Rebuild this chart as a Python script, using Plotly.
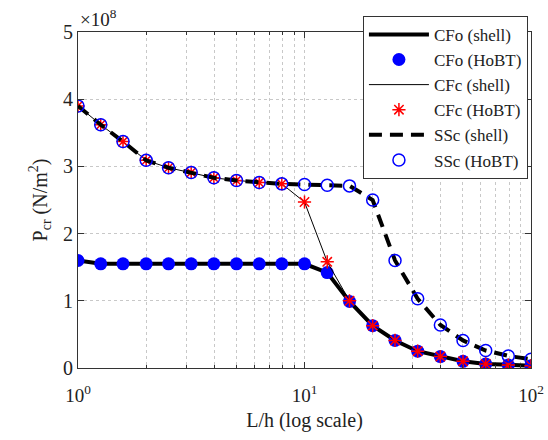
import plotly.graph_objects as go

# Slenderness ratio L/h (log-spaced)
l_over_h = [1, 1.26, 1.58, 2, 2.51, 3.16, 3.98, 5.01, 6.31, 7.94, 10,
            12.6, 15.8, 20, 25.1, 31.6, 39.8, 50.1, 63.1, 79.4, 100]

# Critical buckling load, in units of 1e8 N/m^2
cfo_pcr = [1.60, 1.55, 1.55, 1.55, 1.55, 1.55, 1.55, 1.55, 1.55, 1.55, 1.55,
           1.42, 0.99, 0.63, 0.41, 0.25, 0.17, 0.10, 0.06, 0.045, 0.035]
cfc_pcr = [3.90, 3.62, 3.37, 3.09, 2.98, 2.91, 2.83, 2.79, 2.76, 2.74, 2.47,
           1.58, 1.00, 0.63, 0.41, 0.25, 0.17, 0.10, 0.06, 0.045, 0.035]
ssc_pcr = [3.90, 3.62, 3.37, 3.09, 2.98, 2.91, 2.83, 2.79, 2.76, 2.74, 2.73,
           2.72, 2.71, 2.50, 1.60, 1.03, 0.64, 0.41, 0.26, 0.18, 0.13]

x_ticks = [1, 10, 100]
x_ticktext = ["10<sup>0</sup>", "10<sup>1</sup>", "10<sup>2</sup>"]
x_minor_ticks = [2, 3, 4, 5, 6, 7, 8, 9, 20, 30, 40, 50, 60, 70, 80, 90]
y_ticks = [0, 1, 2, 3, 4, 5]

FONT = "Liberation Serif, serif"
TXT = "#222222"
BLUE = "#0000ff"
RED = "#ff0000"

fig = go.Figure()
fig.add_trace(go.Scatter(x=l_over_h, y=cfo_pcr, mode="lines", name="CFo (shell)",
                         line=dict(color="black", width=4)))
fig.add_trace(go.Scatter(x=l_over_h, y=cfo_pcr, mode="markers", name="CFo (HoBT)",
                         marker=dict(symbol="circle", size=13, color=BLUE)))
fig.add_trace(go.Scatter(x=l_over_h, y=cfc_pcr, mode="lines", name="CFc (shell)",
                         line=dict(color="black", width=1)))
fig.add_trace(go.Scatter(x=l_over_h, y=cfc_pcr, mode="markers", name="CFc (HoBT)",
                         marker=dict(symbol="asterisk-open", size=11, color=RED,
                                     line=dict(color=RED, width=1.5))))
fig.add_trace(go.Scatter(x=l_over_h, y=ssc_pcr, mode="lines", name="SSc (shell)",
                         line=dict(color="black", width=4, dash="13px,8px")))
fig.add_trace(go.Scatter(x=l_over_h, y=ssc_pcr, mode="markers", name="SSc (HoBT)",
                         marker=dict(symbol="circle-open", size=12, color=BLUE,
                                     line=dict(color=BLUE, width=1.5))))

grid = dict(showgrid=True, gridcolor="#c8c8c8", griddash="dot", gridwidth=1)

fig.update_xaxes(
    type="log", range=[0, 2], tickmode="array", tickvals=x_ticks, ticktext=x_ticktext,
    ticks="inside", ticklen=6, tickcolor="#333", showline=True, linecolor="#333",
    linewidth=1, mirror="ticks", zeroline=False, ticklabelstandoff=10,
    tickfont=dict(family=FONT, size=19, color=TXT),
    title=dict(text="L/h (log scale)", font=dict(family=FONT, size=20, color=TXT),
               standoff=8),
    minor=dict(tickmode="array", tickvals=x_minor_ticks, ticks="inside", ticklen=3,
               tickcolor="#333", **grid),
    **grid,
)
fig.update_yaxes(
    range=[0, 5], tickmode="array", tickvals=y_ticks, ticks="inside", ticklen=6,
    tickcolor="#333", showline=True, linecolor="#333", linewidth=1, mirror="ticks",
    zeroline=False, tickfont=dict(family=FONT, size=20, color=TXT),
    title=dict(text="P<sub>cr</sub> (N/m<sup>2</sup>)",
               font=dict(family=FONT, size=20, color=TXT), standoff=10),
    **grid,
)

fig.add_annotation(text="×10<sup>8</sup>", xref="paper", yref="paper", x=0, y=1,
                   xanchor="left", yanchor="bottom", showarrow=False,
                   font=dict(family=FONT, size=19, color=TXT))

fig.update_layout(
    template="none",
    width=548, height=440,
    font=dict(family=FONT, color=TXT),
    margin=dict(l=78, r=17, t=32, b=72),
    paper_bgcolor="white", plot_bgcolor="white",
    showlegend=True,
    legend=dict(x=0.629, y=1.048, xanchor="left", yanchor="top",
                bgcolor="white", bordercolor="#333", borderwidth=1,
                itemwidth=60, tracegroupgap=0,
                font=dict(family=FONT, size=17, color=TXT)),
)

fig.write_html("out.html")
